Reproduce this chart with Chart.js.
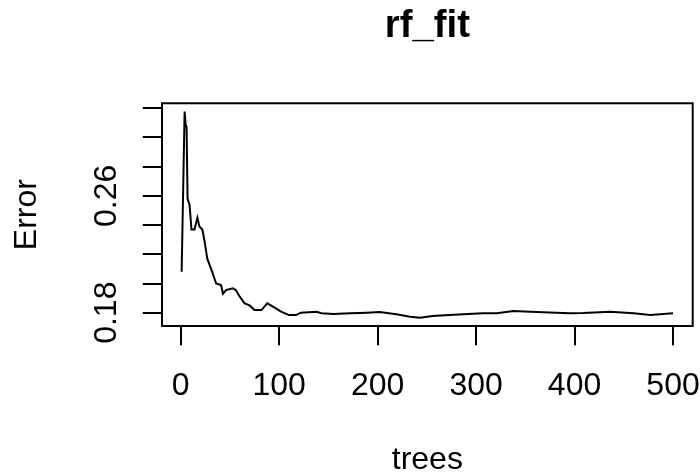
<!DOCTYPE html>
<html>
<head>
  <script src="https://cdn.jsdelivr.net/npm/chart.js"></script>
  <style>
    body { margin: 0; background: #fff; }
  </style>
</head>
<body>
  <canvas id="errChart" width="700" height="475"></canvas>

  <script>
    // number of trees and OOB error
    const trees = [1, 4, 5, 6, 7, 9, 11, 14, 17, 19, 22, 24, 27, 32, 36, 41, 43, 46, 53, 56, 60, 65,
                   70, 75, 82, 88, 95, 102, 110, 117, 122, 138, 143, 155, 172, 189, 202, 219, 233,
                   243, 256, 273, 287, 307, 321, 338, 355, 368, 395, 409, 436, 460, 477, 490, 500];
    const errors = [0.208, 0.3177, 0.309, 0.307, 0.258, 0.254, 0.237, 0.237, 0.245, 0.239, 0.237,
                    0.230, 0.217, 0.208, 0.200, 0.199, 0.193, 0.1955, 0.1967, 0.1955, 0.191, 0.1864,
                    0.185, 0.1818, 0.1818, 0.1864, 0.1837, 0.1807, 0.1784, 0.1784, 0.180, 0.1807,
                    0.1796, 0.1791, 0.1796, 0.180, 0.1805, 0.1789, 0.1773, 0.1766, 0.1777, 0.1784,
                    0.1789, 0.1796, 0.1796, 0.1812, 0.1807, 0.1803, 0.1796, 0.1798, 0.1807, 0.1796,
                    0.1784, 0.1791, 0.1796];

    // tick positions and labels (R drops the overlapping ones)
    const xTicks = [0, 100, 200, 300, 400, 500];
    const yTicks = [0.18, 0.20, 0.22, 0.24, 0.26, 0.28, 0.30, 0.32];
    const yTickLabels = ['0.18', '', '', '', '0.26', '', '', ''];

    const fontFamily = '"Liberation Sans", Arial, sans-serif';

    // box round the plot region, like R's box()
    const boxPlugin = {
      id: 'plotBox',
      afterDraw(chart) {
        const { ctx, chartArea: a } = chart;
        ctx.save();
        ctx.strokeStyle = '#000';
        ctx.lineWidth = 2;
        ctx.strokeRect(a.left, a.top, a.right - a.left, a.bottom - a.top);
        ctx.restore();
      }
    };

    const ctx = document.getElementById('errChart').getContext('2d');
    new Chart(ctx, {
      type: 'line',
      data: {
        datasets: [{
          data: trees.map((t, i) => ({ x: t, y: errors[i] })),
          borderColor: '#000',
          borderWidth: 2,
          pointRadius: 0,
          tension: 0,
          fill: false
        }]
      },
      options: {
        responsive: false,
        animation: false,
        devicePixelRatio: 1,
        layout: { padding: { left: 0, right: 7.3, top: 0, bottom: 0 } },
        plugins: {
          legend: { display: false },
          tooltip: { enabled: false },
          title: {
            display: true,
            text: 'rf_fit',
            fullSize: false,
            color: '#000',
            font: { family: fontFamily, size: 38.4, weight: 'bold' },
            padding: { top: 3, bottom: 54.2 }
          }
        },
        scales: {
          x: {
            type: 'linear',
            min: -18.96,
            max: 519.96,
            afterBuildTicks: s => { s.ticks = xTicks.map(v => ({ value: v })); },
            afterFit: s => {
              s.height = 149;
              s.paddingLeft = 0;
              s.paddingRight = 0;
            },
            ticks: {
              color: '#000',
              font: { family: fontFamily, size: 32 },
              padding: 21.6,
              autoSkip: false,
              maxRotation: 0
            },
            grid: { drawOnChartArea: false, tickLength: 19.2, color: '#000', lineWidth: 2 },
            border: { display: false },
            title: {
              display: true,
              text: 'trees',
              color: '#000',
              font: { family: fontFamily, size: 32 },
              padding: { top: 0, bottom: -4 }
            }
          },
          y: {
            type: 'linear',
            min: 0.1709,
            max: 0.3234,
            afterBuildTicks: s => { s.ticks = yTicks.map(v => ({ value: v })); },
            afterFit: s => {
              s.width = 162;
              s.paddingTop = 0;
              s.paddingBottom = 0;
            },
            ticks: {
              color: '#000',
              font: { family: fontFamily, size: 32 },
              callback: (v, i) => yTickLabels[i],
              minRotation: 90,
              maxRotation: 90,
              crossAlign: 'center',
              padding: 4.7,
              autoSkip: false
            },
            grid: { drawOnChartArea: false, tickLength: 19.2, color: '#000', lineWidth: 2 },
            border: { display: false },
            title: {
              display: true,
              text: 'Error',
              color: '#000',
              font: { family: fontFamily, size: 32 },
              padding: { top: 8, bottom: 0 }
            }
          }
        }
      },
      plugins: [boxPlugin]
    });
  </script>
</body>
</html>
